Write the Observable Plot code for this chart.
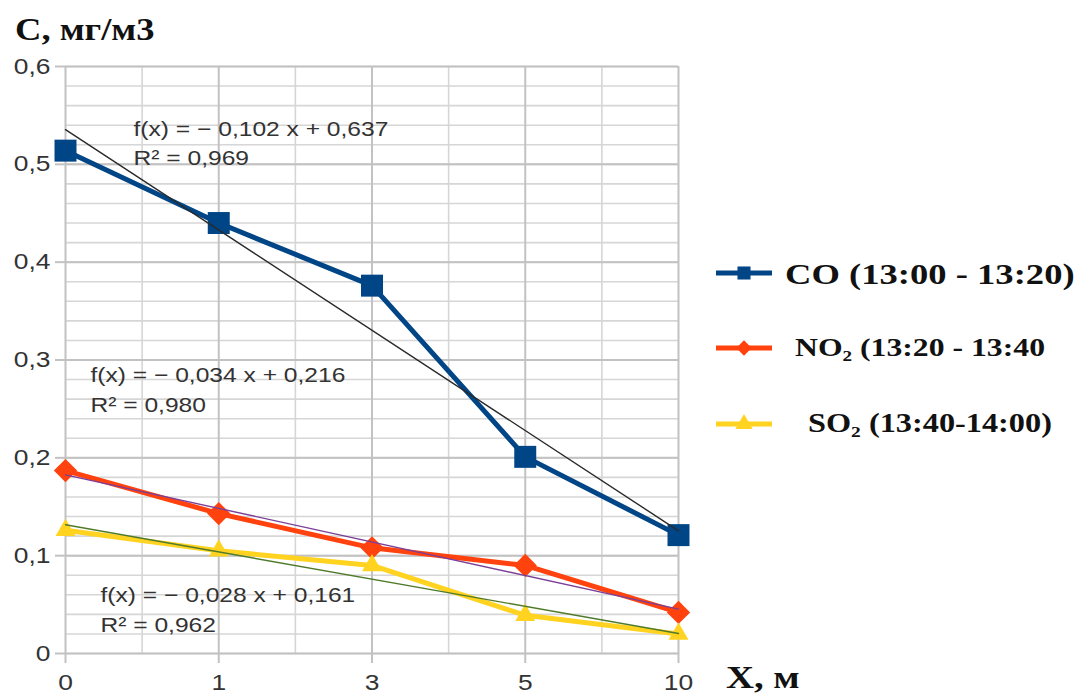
<!DOCTYPE html>
<html>
<head>
<meta charset="utf-8">
<script src="https://cdn.jsdelivr.net/npm/d3@7"></script>
<script src="https://cdn.jsdelivr.net/npm/@observablehq/plot@0.6"></script>
<style>
  html, body { margin: 0; padding: 0; background: #fff; }
  #wrap { position: relative; width: 1077px; height: 695px; overflow: hidden; }
  #wrap svg { position: absolute; left: 0; top: 0; }
</style>
</head>
<body>
<div id="wrap"></div>
<script>
// ---- data ----
const xLabels = ["0", "1", "3", "5", "10"];
const xIndex = [1, 2, 3, 4, 5];
const coValues = [0.514, 0.440, 0.376, 0.201, 0.121];
const no2Values = [0.187, 0.143, 0.108, 0.090, 0.042];
const so2Values = [0.126, 0.105, 0.090, 0.039, 0.020];
const seriesNames = ["CO (13:00 - 13:20)", "NO₂ (13:20 - 13:40", "SO₂ (13:40-14:00)"];
const seriesColors = ["#004586", "#ff420e", "#ffd320"];
const trendColors = ["#2a2a2a", "#7b3f98", "#4f7a2a"];
const seriesSymbols = ["square", "diamond2", "triangle"];
const equationTexts = [
  "f(x) = − 0,102 x + 0,637\nR² = 0,969",
  "f(x) = − 0,034 x + 0,216\nR² = 0,980",
  "f(x) = − 0,028 x + 0,161\nR² = 0,962"
];
const yTicks = [0, 0.1, 0.2, 0.3, 0.4, 0.5, 0.6];
const yMinorTicks = d3.range(0, 31).map(i => i / 50);
const xMinorTicks = [1.5, 2.5, 3.5, 4.5];

// table built from arrays
const allValues = [coValues, no2Values, so2Values];
const rows = [];
allValues.forEach((vals, s) => vals.forEach((v, i) => rows.push({series: seriesNames[s], idx: xIndex[i], value: v})));
const bySeries = s => rows.filter(r => r.series === seriesNames[s]);

const annotations = [
  {x: 1.444, y: 0.524, text: equationTexts[0]},
  {x: 1.163, y: 0.272, text: equationTexts[1]},
  {x: 1.228, y: 0.047, text: equationTexts[2]}
];

const marks = [
  Plot.ruleY(yMinorTicks, {stroke: "#d6d6d6", strokeWidth: 1.6}),
  Plot.ruleX(xMinorTicks, {stroke: "#d6d6d6", strokeWidth: 1.6}),
  Plot.ruleY(yTicks, {stroke: "#c2c2c2", strokeWidth: 2}),
  Plot.ruleX(xIndex, {stroke: "#c2c2c2", strokeWidth: 2}),
];
[0, 1, 2].forEach(s => {
  marks.push(Plot.line(bySeries(s), {x: "idx", y: "value", stroke: seriesColors[s], strokeWidth: 5, strokeLinejoin: "round"}));
});
const dotSizes = [12.4, 10.5, 7.4];
[0, 1, 2].forEach(s => {
  marks.push(Plot.dot(bySeries(s), {x: "idx", y: "value", fill: seriesColors[s], symbol: () => seriesSymbols[s], r: dotSizes[s], stroke: "none"}));
});
[0, 1, 2].forEach(s => {
  marks.push(Plot.linearRegressionY(bySeries(s), {x: "idx", y: "value", stroke: trendColors[s], strokeWidth: 1.4, ci: 0}));
});
marks.push(Plot.text(annotations, {x: "x", y: "y", text: "text", textAnchor: "start", lineAnchor: "middle", lineHeight: 1.45, fontSize: 20.5, fill: "#333"}));
marks.push(Plot.axisY(yTicks, {tickSize: 10, tickPadding: 5, stroke: "#c2c2c2", strokeWidth: 2, fontSize: 22, fill: "#333",
  tickFormat: d => d === 0 ? "0" : d.toFixed(1).replace(".", ","), label: null}));
marks.push(Plot.axisX(xIndex, {tickSize: 10, tickPadding: 11, stroke: "#c2c2c2", strokeWidth: 2, fontSize: 22, fill: "#333",
  tickFormat: i => xLabels[i - 1], label: null}));

const chart = Plot.plot({
  width: 1077,
  height: 695,
  marginLeft: 65,
  marginRight: 399,
  marginTop: 66,
  marginBottom: 42,
  x: {type: "linear", domain: [1, 5]},
  y: {type: "linear", domain: [0, 0.6]},
  style: {fontFamily: "Liberation Sans, Arial, sans-serif", fontSize: "20px", background: "transparent", overflow: "visible"},
  marks
});

// stretch texts horizontally (reference glyphs are wide)
const isNum = v => v != null && v !== "" && !isNaN(+v);
chart.querySelectorAll("text").forEach(t => {
  const tr = t.getAttribute("transform") || "";
  let tx = 0, ty = 0;
  const ax = t.getAttribute("x"), ay = t.getAttribute("y");
  if (isNum(ax)) { tx = +ax; t.removeAttribute("x"); }
  if (isNum(ay)) { ty = +ay; t.removeAttribute("y"); }
  t.setAttribute("transform", `${tr} translate(${tx},${ty}) scale(1.2,1)`);
});
document.getElementById("wrap").appendChild(chart);

// ---- overlay: titles & legend ----
const ov = d3.select("#wrap").append("svg").attr("width", 1077).attr("height", 695)
  .style("pointer-events", "none")
  .attr("font-family", "Liberation Serif, Times New Roman, serif").attr("font-weight", "bold").attr("fill", "#111");

ov.append("text").attr("transform", "translate(15,40) scale(1.18,1)").attr("font-size", 31).text("C, мг/м3");
ov.append("text").attr("transform", "translate(726,688) scale(1.25,1)").attr("font-size", 31).text("X, м");

const legendY = [273, 348, 424];
const legendTextX = [785, 795, 808];
const legendBase = [284, 356, 432];
const legendFont = [30, 26, 26.5];
const legendSym = [d3.symbolSquare, d3.symbolDiamond2, d3.symbolTriangle];
const legendSymSize = [170, 150, 130];
[0, 1, 2].forEach(s => {
  const g = ov.append("g");
  g.append("line").attr("x1", 716).attr("x2", 772).attr("y1", legendY[s]).attr("y2", legendY[s])
    .attr("stroke", seriesColors[s]).attr("stroke-width", 5);
  g.append("path").attr("d", d3.symbol(legendSym[s], legendSymSize[s])())
    .attr("transform", `translate(744,${legendY[s]})`).attr("fill", seriesColors[s]);
  g.append("text").attr("transform", `translate(${legendTextX[s]},${legendBase[s]}) scale(1.22,1)`)
    .attr("font-size", legendFont[s]).text(seriesNames[s]);
});
</script>
</body>
</html>
